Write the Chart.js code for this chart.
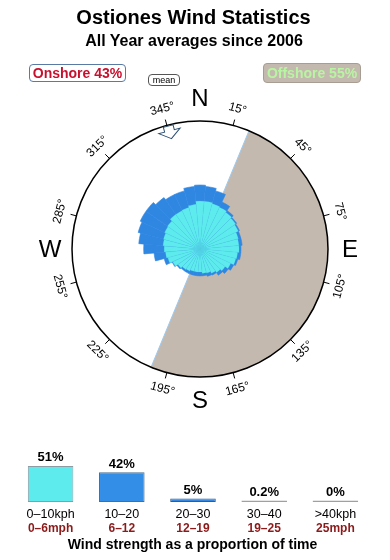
<!DOCTYPE html>
<html lang="en">
<head>
<meta charset="UTF-8">
<title>Ostiones Wind Statistics</title>
<script src="https://cdn.jsdelivr.net/npm/chart.js"></script>
<style>
  body { margin: 0; background: #fff; font-family: "Liberation Sans", Arial, sans-serif; }
  #wrap { position: relative; width: 390px; height: 560px; overflow: hidden; }
  canvas { position: absolute; left: 0; }
  .t { position: absolute; left: 0; width: 390px; text-align: center; font-weight: bold; color: #000; white-space: nowrap; }
  .box { position: absolute; box-sizing: border-box; text-align: center; white-space: nowrap; border-radius: 4px; }
</style>
</head>
<body>
<div id="wrap">
  <canvas id="roseChart" width="390" height="560" style="top:0"></canvas>
  <canvas id="speedChart" width="390" height="120" style="top:440px"></canvas>

  <div class="t" style="top:7px; left:-1.5px; font-size:20px; line-height:20px;">Ostiones Wind Statistics</div>
  <div class="t" style="top:33px; left:-1px; font-size:16px; line-height:16px;">All Year averages since 2006</div>

  <div class="box" style="left:29px; top:64px; width:97px; height:18px; border:1px solid #5a7aa6; background:#fff;
       color:#c8102e; font-weight:bold; font-size:14px; line-height:16px;">Onshore 43%</div>
  <div class="box" style="left:148px; top:74px; width:32px; height:12px; border:1px solid #555; background:#fff;
       color:#000; font-size:9px; line-height:10px;">mean</div>
  <div class="box" style="left:263px; top:63px; width:98px; height:20px; border:1px solid #a79d92; background:#c4b9ae;
       color:#b8f5a2; font-weight:bold; font-size:14px; line-height:18px;">Offshore 55%</div>
</div>

<script>
  // wind rose: 36 sectors of 10 degrees, clockwise from north
  // reach of each band, as % of the outer ring radius
  var sectorLabels = [];
  for (var d = 0; d < 360; d += 10) sectorLabels.push(d + '°');

  var rose0to10 = [37.5, 37.5, 36.5, 36, 35, 34, 33, 31, 30.5, 30.5, 29.5, 29,
                   26.5, 24, 22.5, 21, 19.5, 19, 18, 18, 18, 19, 19.5, 21,
                   23.5, 26, 27, 28, 29, 29.5, 30.5, 31, 33, 33, 33.5, 35];
  var rose0to20 = [50, 49, 47, 40.5, 36.7, 35, 34, 33, 33, 32, 32, 30.5,
                   29, 27, 25, 22.5, 22, 21, 21, 21, 21, 21, 21, 22,
                   24, 29, 36, 44, 48, 50, 51.5, 51.5, 49, 47, 47, 49];

  var offshoreFrom = 22.5;
  var offshoreTo = 202.5;
  var meanDirection = 345.5;
  var degreeTicks = [15, 45, 75, 105, 135, 165, 195, 225, 255, 285, 315, 345];
  var compassPoints = ['N', 'E', 'S', 'W'];

  // wind strength bars
  var speedBands = ['0–10kph', '10–20', '20–30', '30–40', '>40kph'];
  var speedBandsMph = ['0–6mph', '6–12', '12–19', '19–25', '25mph'];
  var speedShare = [51, 42, 5, 0.2, 0];

  var FONT = '"Liberation Sans", Arial, sans-serif';
  var CYAN = '#5debee';
  var BLUE = '#2f87e2';
  var SAND = '#c4b9ae';

  function rad(deg) { return (deg - 90) * Math.PI / 180; }

  var roseFrame = {
    id: 'roseFrame',
    beforeDatasetsDraw: function (chart) {
      var s = chart.scales.r, ctx = chart.ctx;
      var cx = s.xCenter, cy = s.yCenter, R = s.drawingArea;
      ctx.save();
      // offshore half
      ctx.fillStyle = SAND;
      ctx.beginPath();
      ctx.moveTo(cx, cy);
      ctx.arc(cx, cy, R, rad(offshoreFrom), rad(offshoreTo));
      ctx.closePath();
      ctx.fill();
      // thin edge of the offshore sector
      ctx.strokeStyle = '#9ccaf0';
      ctx.lineWidth = 1;
      ctx.beginPath();
      ctx.moveTo(cx + R * Math.cos(rad(offshoreFrom)), cy + R * Math.sin(rad(offshoreFrom)));
      ctx.lineTo(cx + R * Math.cos(rad(offshoreTo)), cy + R * Math.sin(rad(offshoreTo)));
      ctx.stroke();
      // ring
      ctx.strokeStyle = '#000';
      ctx.lineWidth = 1.5;
      ctx.beginPath();
      ctx.arc(cx, cy, R, 0, Math.PI * 2);
      ctx.stroke();
      // ticks + degree labels
      ctx.lineWidth = 1;
      ctx.fillStyle = '#000';
      ctx.font = '12px ' + FONT;
      ctx.textAlign = 'center';
      ctx.textBaseline = 'middle';
      degreeTicks.forEach(function (deg) {
        var a = rad(deg);
        ctx.beginPath();
        ctx.moveTo(cx + R * Math.cos(a), cy + R * Math.sin(a));
        ctx.lineTo(cx + (R + 6) * Math.cos(a), cy + (R + 6) * Math.sin(a));
        ctx.stroke();
        var rot = (deg > 90 && deg < 270) ? deg - 180 : deg;
        ctx.save();
        ctx.translate(cx + (R + 17) * Math.cos(a), cy + (R + 17) * Math.sin(a));
        ctx.rotate(rot * Math.PI / 180);
        ctx.fillText(deg + '°', 0, 0);
        ctx.restore();
      });
      // compass letters
      ctx.font = '24px ' + FONT;
      compassPoints.forEach(function (p, i) {
        var a = rad(i * 90);
        ctx.fillText(p, cx + (R + 22) * Math.cos(a), cy + (R + 23) * Math.sin(a) + 1);
      });
      ctx.restore();
    },
    afterDatasetsDraw: function (chart) {
      var s = chart.scales.r, ctx = chart.ctx;
      ctx.save();
      ctx.translate(s.xCenter, s.yCenter);
      ctx.rotate(rad(meanDirection));
      var pts = [[114, 0], [122, -11], [122, -5], [127, -5], [127, 5], [122, 5], [122, 11]];
      ctx.beginPath();
      pts.forEach(function (p, i) { if (i) ctx.lineTo(p[0], p[1]); else ctx.moveTo(p[0], p[1]); });
      ctx.closePath();
      ctx.fillStyle = '#fff';
      ctx.fill();
      ctx.strokeStyle = '#2b4f73';
      ctx.lineWidth = 1;
      ctx.stroke();
      ctx.restore();
    }
  };

  new Chart(document.getElementById('roseChart'), {
    type: 'polarArea',
    data: {
      labels: sectorLabels,
      datasets: [
        { label: '0-10 kph', data: rose0to10, backgroundColor: CYAN,
          borderColor: 'rgba(80,205,220,0.35)', borderWidth: 0.5 },
        { label: '10-20 kph', data: rose0to20, backgroundColor: BLUE,
          borderColor: BLUE, borderWidth: 0.6 }
      ]
    },
    options: {
      responsive: false,
      animation: false,
      events: [],
      layout: { padding: { left: 72, right: 62, top: 121, bottom: 183 } },
      plugins: { legend: { display: false }, tooltip: { enabled: false } },
      scales: {
        r: {
          min: 0, max: 100,
          startAngle: -5,
          ticks: { display: false },
          grid: { display: false },
          angleLines: { display: false },
          pointLabels: { display: false }
        }
      }
    },
    plugins: [roseFrame]
  });

  var barText = {
    id: 'barText',
    afterDatasetsDraw: function (chart) {
      var ctx = chart.ctx, meta = chart.getDatasetMeta(0), x = chart.scales.x;
      ctx.save();
      ctx.textAlign = 'center';
      ctx.textBaseline = 'alphabetic';
      ctx.fillStyle = '#000';
      ctx.font = 'bold 13px ' + FONT;
      meta.data.forEach(function (bar, i) {
        ctx.fillText(speedShare[i] + '%', bar.x, bar.y - 4.5);
      });
      ctx.fillStyle = '#8b1a1a';
      ctx.font = 'bold 12px ' + FONT;
      speedBandsMph.forEach(function (t, i) {
        ctx.fillText(t, x.getPixelForValue(i), 92);
      });
      ctx.fillStyle = '#000';
      ctx.font = 'bold 14px ' + FONT;
      ctx.fillText('Wind strength as a proportion of time', 192.5, 109);
      ctx.restore();
    }
  };

  new Chart(document.getElementById('speedChart'), {
    type: 'bar',
    data: {
      labels: speedBands,
      datasets: [{
        data: speedShare,
        backgroundColor: [CYAN, '#338ee8', '#3389e5', '#a8a8a8', '#a8a8a8'],
        borderColor: ['#8e9ba3', '#4a6e90', '#2e5d8f', '#a0a0a0', '#a0a0a0'],
        borderWidth: 1,
        borderSkipped: false,
        minBarLength: 1.5,
        categoryPercentage: 1,
        barPercentage: 0.64
      }]
    },
    options: {
      responsive: false,
      animation: false,
      events: [],
      layout: { padding: { left: 15, right: 19, top: 19.5, bottom: 33 } },
      plugins: { legend: { display: false }, tooltip: { enabled: false } },
      scales: {
        x: {
          grid: { display: false, drawTicks: false },
          border: { display: false },
          ticks: { color: '#000', font: { family: FONT, size: 12.5 }, padding: 5, maxRotation: 0, autoSkip: false }
        },
        y: { display: false, min: 0, max: 60 }
      }
    },
    plugins: [barText]
  });
</script>
</body>
</html>
